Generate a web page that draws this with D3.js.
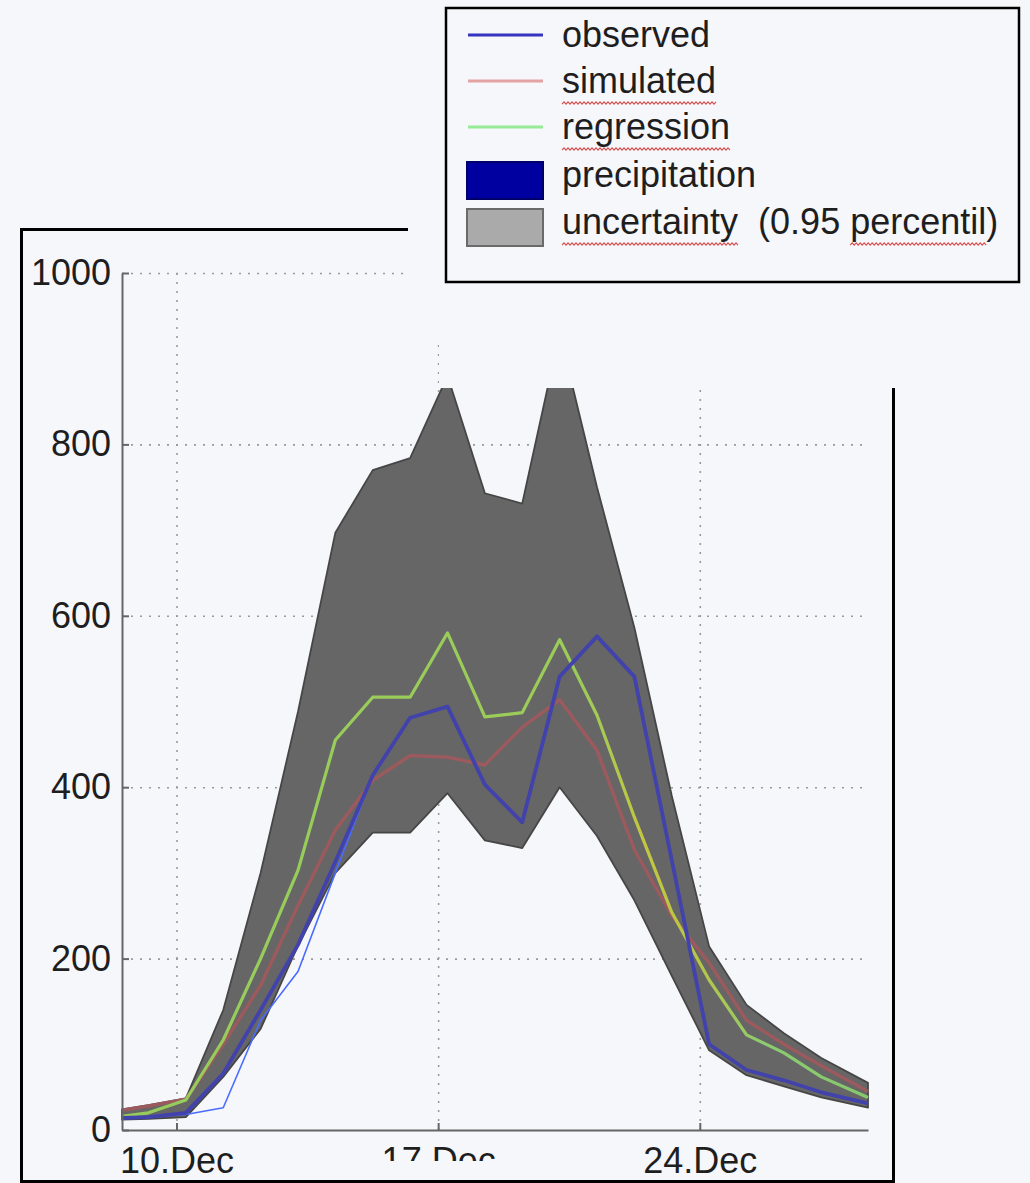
<!DOCTYPE html>
<html>
<head>
<meta charset="utf-8">
<script src="https://cdn.jsdelivr.net/npm/d3@7"></script>
<style>
  html, body { margin: 0; padding: 0; background: #f6f7fa; }
  svg { display: block; }
</style>
</head>
<body>
<script>
// Sample times (one value per day, first and last are partial days)
const times = [
  "2008-12-08 13:00", "2008-12-09 06:00", "2008-12-10 06:00", "2008-12-11 06:00",
  "2008-12-12 06:00", "2008-12-13 06:00", "2008-12-14 06:00", "2008-12-15 06:00",
  "2008-12-16 06:00", "2008-12-17 06:00", "2008-12-18 06:00", "2008-12-19 06:00",
  "2008-12-20 06:00", "2008-12-21 06:00", "2008-12-22 06:00", "2008-12-23 06:00",
  "2008-12-24 06:00", "2008-12-25 06:00", "2008-12-26 06:00", "2008-12-27 06:00",
  "2008-12-28 12:00"
];

// 0.95 uncertainty band
const upperBound = [24, 29, 37, 140, 300, 488, 697, 770, 784, 880, 743, 731, 930, 750, 586, 390, 214, 146, 113, 84, 55];
const lowerBound = [12, 13, 15, 62, 118, 215, 300, 347, 347, 393, 338, 329, 400, 343, 268, 180, 93, 64, 51, 38, 26];

// Series
const observed     = [14, 15, 20, 66, 140, 216, 313, 414, 481, 494, 403, 359, 529, 576, 529, 315, 100, 70, 58, 44, 31];
const observedRaw  = [14, 15, 18, 26, 128, 185, 300, 414, 481, 494, 403, 359, 529, 576, 529, 315, 100, 70, 58, 44, 31];
const simulated    = [23, 28, 36, 100, 169, 262, 350, 408, 437, 435, 426, 470, 502, 443, 327, 250, 195, 128, 100, 75, 45];
const regression   = [16, 20, 35, 105, 200, 303, 455, 505, 505, 580, 482, 487, 572, 484, 365, 254, 175, 111, 90, 62, 38];

// Axis ticks
const yTicks = [0, 200, 400, 600, 800, 1000];
const xTickDays = ["2008-12-10", "2008-12-17", "2008-12-24"];

// Legend entries
const legendItems = [
  { label: "observed", kind: "line", color: "#3535c0" },
  { label: "simulated", kind: "line", color: "#e3a3a3" },
  { label: "regression", kind: "line", color: "#95ec95" },
  { label: "precipitation", kind: "box", color: "#0000a0", edge: "#00006a" },
  { label: "uncertainty  (0.95 percentil)", kind: "box", color: "#aaaaaa", edge: "#6a6a6a" }
];
const underlined = ["simulated", "regression", "uncertainty", "percentil"];

const BG = "#f6f7fa";
const W = 1030, H = 1183;
const FONT = "'Liberation Sans', Arial, Helvetica, sans-serif";

const svg = d3.select("body").append("svg")
  .attr("width", W).attr("height", H)
  .style("font-family", FONT);

svg.append("rect").attr("width", W).attr("height", H).attr("fill", BG);

const parseTime = d3.timeParse("%Y-%m-%d %H:%M");
const parseDay = d3.timeParse("%Y-%m-%d");
const dates = times.map(parseTime);

const plot = { left: 122, right: 868, top: 273, bottom: 1130 };

const x = d3.scaleTime()
  .domain([dates[0], dates[dates.length - 1]])
  .range([plot.left, plot.right]);
const y = d3.scaleLinear()
  .domain([0, 1000])
  .range([plot.bottom, plot.top]);

// Dotted grid
const grid = svg.append("g");
grid.append("g")
  .attr("transform", `translate(${plot.left},0)`)
  .call(d3.axisLeft(y).tickValues(yTicks.filter(v => v > 0))
    .tickSize(-(plot.right - plot.left)).tickFormat(""))
  .call(g => g.select(".domain").remove());
grid.append("g")
  .attr("transform", `translate(0,${plot.bottom})`)
  .call(d3.axisBottom(x).tickValues(xTickDays.map(parseDay))
    .tickSize(-(plot.bottom - plot.top)).tickFormat(""))
  .call(g => g.select(".domain").remove());
grid.selectAll(".tick line")
  .attr("stroke", "#9a9a9a")
  .attr("stroke-width", 1.6)
  .attr("stroke-dasharray", "2,7");

// Uncertainty band
const band = d3.area()
  .x((d, i) => x(dates[i]))
  .y0((d, i) => y(lowerBound[i]))
  .y1((d, i) => y(upperBound[i]));
svg.append("path")
  .datum(upperBound)
  .attr("d", band)
  .attr("fill", "#666666")
  .attr("stroke", "#464646")
  .attr("stroke-width", 1.8)
  .attr("stroke-linejoin", "round");

const lineOf = arr => d3.line()
  .x((d, i) => x(dates[i]))
  .y(d => y(d))(arr);

// Regression stroke shifts toward yellow on the falling limb
const defs = svg.append("defs");
const grad = defs.append("linearGradient")
  .attr("id", "regStroke")
  .attr("gradientUnits", "userSpaceOnUse")
  .attr("x1", plot.left).attr("x2", plot.right).attr("y1", 0).attr("y2", 0);
[[0, "#96cc5c"], [0.62, "#9ccc58"], [0.70, "#c4c640"], [0.78, "#b4c64a"], [0.86, "#8ccc70"], [1, "#88c86c"]]
  .forEach(([o, c]) => grad.append("stop").attr("offset", o).attr("stop-color", c));

svg.append("path").attr("d", lineOf(simulated))
  .attr("fill", "none").attr("stroke", "#9a5a5e").attr("stroke-width", 3.5)
  .attr("stroke-linejoin", "round");
svg.append("path").attr("d", lineOf(observedRaw))
  .attr("fill", "none").attr("stroke", "#4a6cff").attr("stroke-width", 1.6)
  .attr("stroke-linejoin", "round");
svg.append("path").attr("d", lineOf(regression))
  .attr("fill", "none").attr("stroke", "url(#regStroke)").attr("stroke-width", 3.2)
  .attr("stroke-linejoin", "round");
svg.append("path").attr("d", lineOf(observed))
  .attr("fill", "none").attr("stroke", "#4242ac").attr("stroke-width", 3.8)
  .attr("stroke-linejoin", "round");

// Axes
const yAxis = svg.append("g")
  .attr("transform", `translate(${plot.left},0)`)
  .call(d3.axisLeft(y).tickValues(yTicks).tickFormat(d3.format("d"))
    .tickSizeInner(-7).tickSizeOuter(0).tickPadding(11));
const xAxis = svg.append("g")
  .attr("transform", `translate(0,${plot.bottom})`)
  .call(d3.axisBottom(x).tickValues(xTickDays.map(parseDay))
    .tickFormat(d3.timeFormat("%d.%b")).tickSizeInner(-7).tickSizeOuter(0).tickPadding(17));
[yAxis, xAxis].forEach(ax => {
  ax.select(".domain").attr("stroke", "#666").attr("stroke-width", 2);
  ax.selectAll(".tick line").attr("stroke", "#666").attr("stroke-width", 2);
  ax.selectAll(".tick text")
    .attr("fill", "#1e1e1e")
    .style("font-family", FONT)
    .style("font-size", "36px");
});

// Cover pieces laid over the figure (page background colour)
svg.append("rect").attr("x", 408).attr("y", 220).attr("width", 500).attr("height", 123).attr("fill", BG);
svg.append("rect").attr("x", 439).attr("y", 343).attr("width", 470).attr("height", 45).attr("fill", BG);
svg.append("rect").attr("x", 300).attr("y", 1161).attr("width", 260).attr("height", 19).attr("fill", BG);

// Frame around the chart
svg.append("path")
  .attr("d", "M408,229.5 H21.5 V1181.5 H893.5 V388")
  .attr("fill", "none")
  .attr("stroke", "#000")
  .attr("stroke-width", 3);

// Legend
const lg = svg.append("g");
lg.append("rect")
  .attr("x", 446).attr("y", 8).attr("width", 573).attr("height", 274)
  .attr("fill", BG).attr("stroke", "#000").attr("stroke-width", 2.5);

const rowBase = [47, 93, 139, 187, 234];
const rows = lg.selectAll("g.item").data(legendItems).join("g").attr("class", "item");
rows.each(function (d, i) {
  const g = d3.select(this);
  const b = rowBase[i];
  if (d.kind === "line") {
    g.append("line")
      .attr("x1", 468).attr("x2", 543)
      .attr("y1", b - 12).attr("y2", b - 12)
      .attr("stroke", d.color).attr("stroke-width", 3);
  } else {
    g.append("rect")
      .attr("x", 467).attr("y", b - 25).attr("width", 76).attr("height", 37)
      .attr("fill", d.color)
      .attr("stroke", d.edge)
      .attr("stroke-width", 2);
  }
  g.append("text")
    .attr("x", 562).attr("y", b)
    .attr("fill", "#1e1e1e")
    .style("font-size", "36px")
    .style("white-space", "pre")
    .text(d.label);
});

// Spell-check squiggles under selected words
lg.selectAll("g.item text").each(function (d) {
  const el = this;
  const label = d.label;
  underlined.forEach(word => {
    const k = label.indexOf(word);
    if (k < 0) return;
    const x0 = 562 + (k > 0 ? el.getSubStringLength(0, k) : 0);
    const w = el.getSubStringLength(k, word.length);
    const yb = +d3.select(el).attr("y") + 10;
    const pts = [];
    for (let px = 0; px <= w; px += 2) pts.push([x0 + px, yb + ((px / 2) % 2 ? -1.2 : 1.2)]);
    lg.append("path")
      .attr("d", d3.line()(pts))
      .attr("fill", "none")
      .attr("stroke", "#d65050")
      .attr("stroke-width", 1.1);
  });
});
</script>
</body>
</html>
